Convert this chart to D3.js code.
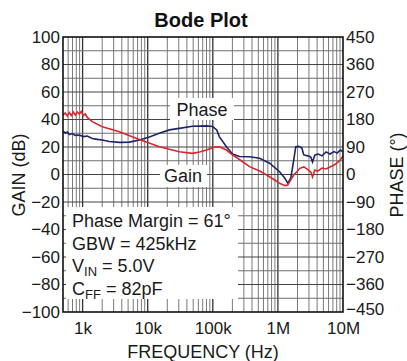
<!DOCTYPE html>
<html>
<head>
<meta charset="utf-8">
<script src="https://cdn.jsdelivr.net/npm/d3@7"></script>
<style>
  html, body { margin: 0; padding: 0; background: #fff; }
  svg { display: block; font-family: "Liberation Sans", Arial, sans-serif; }
</style>
</head>
<body>
<svg id="chart" width="407" height="361"></svg>
<script>
// Loop response measurement: gain (dB) and phase (degrees) vs frequency (Hz)
const gainFreq = [500, 542, 582, 624, 670, 719, 772, 829, 889, 955, 1025, 1100, 1181, 1410, 2008, 3671, 7437,
  15100, 30600, 48600, 62600, 80200, 106000, 126000, 162000, 200000, 257000, 367000, 524000, 672000, 891000,
  1060000, 1280000, 1420000, 1520000, 1750000, 1950000, 2170000, 2500000, 2890000, 3200000, 3400000, 3700000,
  4100000, 4750000, 5500000, 6300000, 7300000, 8100000, 9100000, 10000000];
const gainDb = [43.3, 44.7, 42.5, 45.1, 42.9, 45.5, 43.3, 45.5, 44.0, 45.8, 42.9, 44.0, 41.5, 38.4, 34.8, 31.1, 25.5,
  20.2, 16.6, 15.4, 16.4, 17.8, 20.0, 20.2, 17.8, 14.2, 10.9, 5.7, 2.5, -0.4, -4.0,
  -6.4, -8.1, -7.6, -5.2, -0.4, 2.0, 4.5, 5.5, 3.6, 1.8, -1.8, 3.3,
  2.5, 4.7, 4.0, 5.5, 6.9, 8.4, 10.5, 13.5];

const phaseFreq = [500, 542, 582, 624, 694, 772, 889, 1025, 1181, 1410, 1684, 2008, 2578, 3671, 5228, 7437,
  10600, 15100, 21500, 30600, 48600, 80200, 99300, 115000, 126000, 162000, 200000, 257000, 367000, 524000,
  746000, 1060000, 1280000, 1420000, 1580000, 1750000, 1880000, 2090000, 2330000, 2500000, 2890000, 3200000,
  3400000, 3700000, 4180000, 4750000, 5500000, 6300000, 7300000, 8100000, 9100000, 10000000];
const phaseDeg = [142, 136, 139, 131, 134, 128, 129, 124, 126, 118, 115, 113, 108, 105, 106, 113,
  123, 135, 146, 151, 158, 159, 157, 146, 124, 91, 67, 59, 58, 53,
  37, 9, -12, -29, -11, 47, 91, 92, 87, 64, 61, 57,
  41, 64, 67, 61, 74, 67, 75, 70, 80, 74];

const gainTicks = [100, 80, 60, 40, 20, 0, -20, -40, -60, -80, -100];
const phaseTicks = [450, 360, 270, 180, 90, 0, -90, -180, -270, -360, -450];
const freqTicks = [1e3, 1e4, 1e5, 1e6, 1e7];
const freqTickLabels = ["1k", "10k", "100k", "1M", "10M"];

const noteLines = [
  { main: "Phase Margin = 61°", sub: null, rest: null },
  { main: "GBW = 425kHz", sub: null, rest: null },
  { main: "V", sub: "IN", rest: " = 5.0V" },
  { main: "C", sub: "FF", rest: " = 82pF" }
];

const svg = d3.select("#chart");
const L = 63, R = 343, T = 37, B = 312;

const x = d3.scaleLog().domain([500, 1e7]).range([L, R]);
const yGain = d3.scaleLinear().domain([-100, 100]).range([B, T]);
const yPhase = d3.scaleLinear().domain([-450, 450]).range([B, T]);

// Grid
const grid = svg.append("g");
const minorFreqs = [];
for (let k = 2; k <= 6; k++) {
  for (let m = 1; m <= 9; m++) {
    const f = m * Math.pow(10, k);
    if (f > 500 && f < 1e7) minorFreqs.push(f);
  }
}
grid.selectAll("line.v").data(minorFreqs).join("line")
  .attr("x1", d => x(d)).attr("x2", d => x(d))
  .attr("y1", T).attr("y2", B)
  .attr("stroke", d => freqTicks.includes(d) ? "#333" : "#7a7a7a")
  .attr("stroke-width", d => freqTicks.includes(d) ? 1.3 : 1);
grid.selectAll("line.h").data(d3.range(-90, 100, 10)).join("line")
  .attr("x1", L).attr("x2", R)
  .attr("y1", d => yGain(d)).attr("y2", d => yGain(d))
  .attr("stroke", d => d % 20 === 0 ? "#444" : "#6e6e6e")
  .attr("stroke-width", 1);

// Label backgrounds that mask the grid
const masks = svg.append("g").attr("fill", "#fff");
masks.append("rect").attr("x", 66).attr("y", 207).attr("width", 172).attr("height", 92);
masks.append("rect").attr("x", 170).attr("y", 98).attr("width", 64).attr("height", 22);
masks.append("rect").attr("x", 160).attr("y", 165).attr("width", 47).attr("height", 22);

// Curves
const gainLine = d3.line().x((d, i) => x(gainFreq[i])).y(d => yGain(d)).curve(d3.curveLinear);
const phaseLine = d3.line().x((d, i) => x(phaseFreq[i])).y(d => yPhase(d)).curve(d3.curveLinear);
svg.append("path").datum(phaseDeg).attr("d", phaseLine)
  .attr("fill", "none").attr("stroke", "#1d2468").attr("stroke-width", 1.6);
svg.append("path").datum(gainDb).attr("d", gainLine)
  .attr("fill", "none").attr("stroke", "#d8282e").attr("stroke-width", 1.6);

// Frame
svg.append("rect").attr("x", L).attr("y", T).attr("width", R - L).attr("height", B - T)
  .attr("fill", "none").attr("stroke", "#111").attr("stroke-width", 1.6);

// Axes
const leftAxis = d3.axisLeft(yGain).tickValues(gainTicks).tickSize(0).tickPadding(3);
const gL = svg.append("g").attr("transform", `translate(${L},0)`).call(leftAxis);
const rightAxis = d3.axisRight(yPhase).tickValues(phaseTicks).tickSize(0).tickPadding(3);
const gR = svg.append("g").attr("transform", `translate(${R},0)`).call(rightAxis);
const bottomAxis = d3.axisBottom(x).tickValues(freqTicks).tickSize(0).tickPadding(10)
  .tickFormat((d, i) => freqTickLabels[i]);
const gB = svg.append("g").attr("transform", `translate(0,${B})`).call(bottomAxis);
[gL, gR, gB].forEach(g => {
  g.select(".domain").remove();
  g.selectAll("text").attr("font-size", 17).attr("fill", "#1a1a1a")
    .attr("font-family", "'Liberation Sans', Arial, sans-serif");
});
// lowest phase label sits just above the 10M label
gR.selectAll(".tick").filter(d => d === -450).select("text").attr("y", -3);

// Titles
svg.append("text").attr("x", 201).attr("y", 27).attr("text-anchor", "middle")
  .attr("font-size", 20).attr("font-weight", "bold").attr("fill", "#111").text("Bode Plot");
svg.append("text").attr("x", 203).attr("y", 358).attr("text-anchor", "middle")
  .attr("font-size", 18).attr("fill", "#1a1a1a").text("FREQUENCY (Hz)");
svg.append("text").attr("transform", "translate(25,175) rotate(-90)").attr("text-anchor", "middle")
  .attr("font-size", 18).attr("fill", "#1a1a1a").text("GAIN (dB)");
svg.append("text").attr("transform", "translate(403,175) rotate(-90)").attr("text-anchor", "middle")
  .attr("font-size", 18).attr("fill", "#1a1a1a").text("PHASE (°)");

// Curve labels
svg.append("text").attr("x", 202).attr("y", 116).attr("text-anchor", "middle")
  .attr("font-size", 18).attr("fill", "#1a1a1a").text("Phase");
svg.append("text").attr("x", 183).attr("y", 182).attr("text-anchor", "middle")
  .attr("font-size", 18).attr("fill", "#1a1a1a").text("Gain");

// Operating conditions
const notes = svg.append("g").attr("font-size", 18).attr("fill", "#1a1a1a");
noteLines.forEach((n, i) => {
  const t = notes.append("text").attr("x", 72).attr("y", 227 + i * 22.5);
  t.append("tspan").text(n.main);
  if (n.sub) {
    t.append("tspan").attr("font-size", 13).attr("dy", 4).text(n.sub);
    t.append("tspan").attr("dy", -4).text(n.rest);
  }
});
</script>
</body>
</html>
